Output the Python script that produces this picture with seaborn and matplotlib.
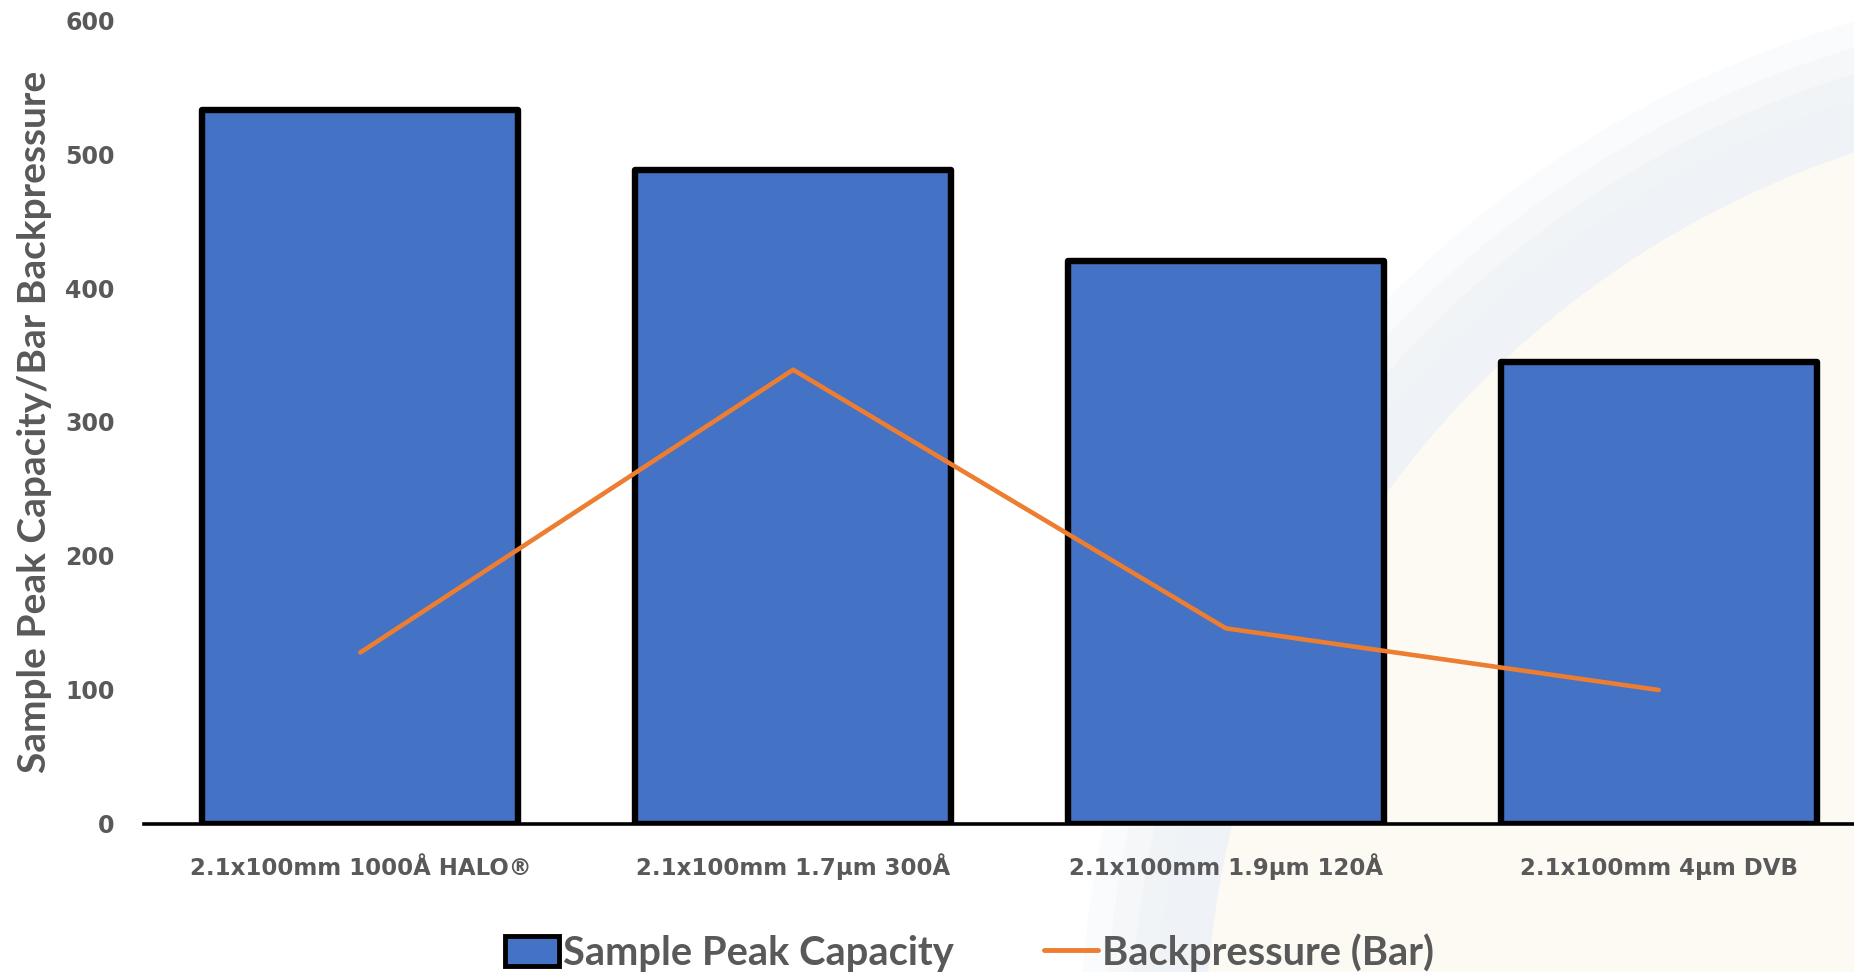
import numpy as np
import matplotlib
matplotlib.use("Agg")
import matplotlib.pyplot as plt
from matplotlib.patches import Patch, Circle
from matplotlib.lines import Line2D
import seaborn as sns

# Column comparison data
categories = [
    "2.1x100mm 1000Å HALO®",
    "2.1x100mm 1.7µm 300Å",
    "2.1x100mm 1.9µm 120Å",
    "2.1x100mm 4µm DVB",
]
peak_capacity = [533, 488, 420, 345]
backpressure = [128, 339, 146, 100]
y_ticks = [0, 100, 200, 300, 400, 500, 600]

bar_label = "Sample Peak Capacity"
line_label = "Backpressure (Bar)"
y_label = "Sample Peak Capacity/Bar Backpressure"

BAR_BLUE = "#4472C4"
LINE_ORANGE = "#ED7D31"
TEXT_GREY = "#595959"

sns.set_theme(style="white")
label_font = ["Lato", "Open Sans", "DejaVu Sans"]
plt.rcParams["font.family"] = ["DejaVu Sans"]

W, H, DPI = 1854, 972, 100
fig = plt.figure(figsize=(W / DPI, H / DPI), dpi=DPI, facecolor="white")

# Soft decorative backdrop: cream disc with a pale blue-grey halo
bg = fig.add_axes([0, 0, 1, 1], zorder=-5)
bg.set_xlim(0, W)
bg.set_ylim(H, 0)
bg.axis("off")
for r, a in [(1070, 0.3), (1045, 0.4), (1020, 0.5), (995, 0.55), (970, 0.45)]:
    bg.add_patch(Circle((2150, 1050), r, facecolor="#EFF2F6", edgecolor="none", alpha=a))
bg.add_patch(Circle((2150, 1050), 945, facecolor="#FDF9F3", edgecolor="none"))

ax = fig.add_axes([144 / W, 0.1523, (1875 - 144) / W, 0.8271], zorder=1)
ax.set_facecolor("none")

sns.barplot(
    x=categories, y=peak_capacity, color=BAR_BLUE, saturation=1,
    width=0.73, edgecolor="black", linewidth=4.6, ax=ax, zorder=2,
)
for p in ax.patches:
    p.set_joinstyle("round")

sns.lineplot(
    x=np.arange(len(categories)), y=backpressure, color=LINE_ORANGE,
    linewidth=3.3, ax=ax, zorder=3, solid_capstyle="round",
)

ax.set_xlim(-0.5, len(categories) - 0.5)
ax.set_ylim(0, 600)
ax.set_yticks(y_ticks)
ax.set_yticklabels([str(t) for t in y_ticks])

for s in ["top", "right", "left"]:
    ax.spines[s].set_visible(False)
ax.spines["bottom"].set_color("black")
ax.spines["bottom"].set_linewidth(2.6)
ax.grid(False)

ax.tick_params(axis="y", length=0, pad=21, labelsize=17, labelcolor=TEXT_GREY)
ax.tick_params(axis="x", length=0, pad=37, labelsize=16.5, labelcolor=TEXT_GREY)
for lab in ax.get_yticklabels():
    lab.set_fontweight("bold")
for lab in ax.get_xticklabels():
    lab.set_fontweight("bold")
    lab.set_verticalalignment("baseline")

ax.set_xlabel("")
ax.set_ylabel(y_label, fontsize=28, color=TEXT_GREY, fontweight="bold", family=label_font)
ax.yaxis.set_label_coords(-0.053, 0.5)

handles = [
    Patch(facecolor=BAR_BLUE, edgecolor="black", linewidth=3.5, joinstyle="round"),
    Line2D([], [], color=LINE_ORANGE, linewidth=3.5),
]
fig.legend(
    handles, [bar_label, line_label], loc="center", bbox_to_anchor=(0.523, 0.02),
    ncol=2, frameon=False, prop={"family": label_font, "size": 28.7, "weight": "bold"},
    labelcolor=TEXT_GREY, handlelength=1.37, handleheight=0.78,
    handletextpad=0.1, columnspacing=2.25,
)

fig.savefig("out.png", dpi=DPI, facecolor="white")
